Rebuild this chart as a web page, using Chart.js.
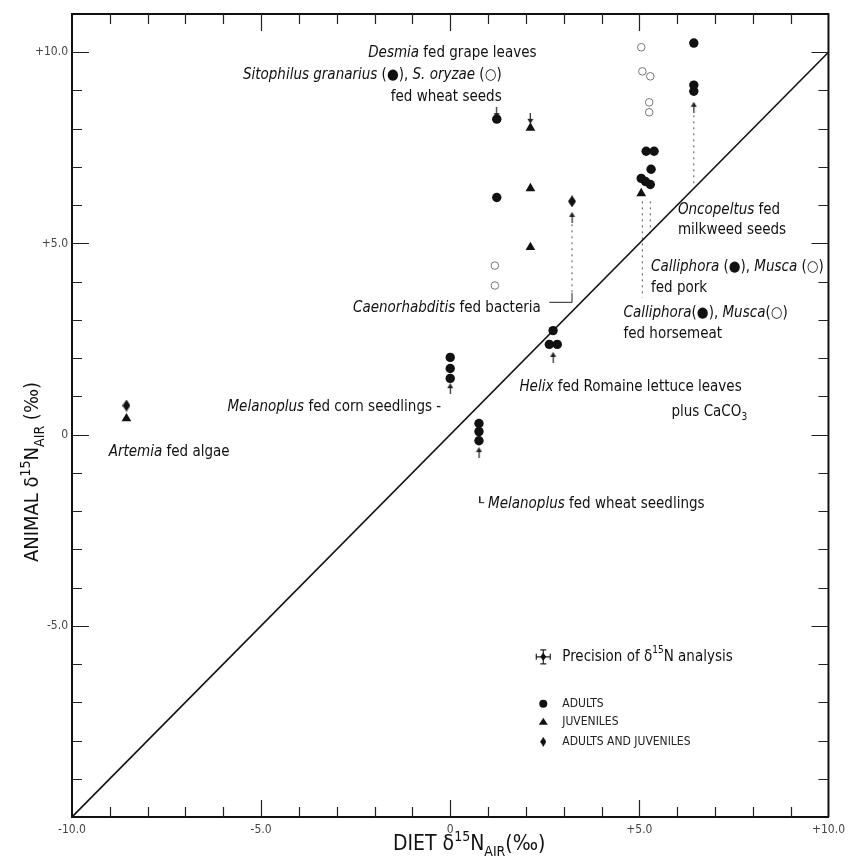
<!DOCTYPE html>
<html lang="en">
<head>
<meta charset="UTF-8">
<title>Animal vs diet δ15N</title>
<script src="https://cdn.jsdelivr.net/npm/chart.js"></script>
<style>
  html, body { margin: 0; padding: 0; background: #fff; }
</style>
</head>
<body>
<canvas id="chart" width="851" height="865"></canvas>
<script>
// values, diet d15N (x) vs animal d15N (y), per mil
const adultsX = [0, 0, 0, 0.76, 0.76, 0.76, 2.72, 2.62, 2.83, 1.23, 1.23, 6.44, 6.44, 6.44, 5.18, 5.39, 5.31, 5.05, 5.16, 5.29];
const adultsY = [2.02, 1.73, 1.47, 0.29, 0.08, -0.16, 2.72, 2.36, 2.36, 8.25, 6.2, 10.24, 9.14, 8.98, 7.41, 7.41, 6.94, 6.7, 6.62, 6.54];
const juvenilesX = [-8.56, 2.12, 2.12, 2.12, 5.05];
const juvenilesY = [0.42, 8.02, 6.44, 4.9, 6.31];
const bothX = [-8.56, 3.22];
const bothY = [0.76, 6.1];
const openX = [1.18, 1.18, 5.05, 5.08, 5.29, 5.26, 5.26];
const openY = [4.42, 3.9, 10.13, 9.5, 9.37, 8.69, 8.43];
const arrowX = [0, 0.76, 2.72, 3.22, 6.44, 2.12, 1.23];
const arrowY = [1.2, -0.47, 2.02, 5.68, 8.56, 8.27, 8.42];
const arrowTurn = [0, 0, 0, 0, 0, 180, 180];

const lineX = [-10, 10];
const lineY = [-10, 10];

// dotted leaders from labels to the diet values
const leaders = [
  { x: [3.22, 3.22], y: [5.5, 3.7] },
  { x: [6.44, 6.44], y: [8.35, 6.55] },
  { x: [5.08, 5.08], y: [6.1, 3.58] },
  { x: [5.29, 5.29], y: [6.1, 5.25] }
];
const brackets = [
  { x: [2.62, 3.22, 3.22], y: [3.46, 3.46, 3.7] },
  { x: [0.78, 0.78, 0.9], y: [-1.62, -1.78, -1.78] }
];

const xTickText = { '-10': '-10.0', '-5': '-5.0', '0': '0', '5': '+5.0', '10': '+10.0' };
const yTickText = { '-5': '-5.0', '0': '0', '5': '+5.0', '10': '+10.0' };

const notes = [
  { x: 2.28, y: 9.97, align: 'right', parts: [['Desmia', 'i'], [' fed grape leaves', '']] },
  { x: 1.36, y: 9.40, align: 'right', parts: [['Sitophilus granarius', 'i'], [' (●), ', ''], ['S. oryzae', 'i'], [' (○)', '']] },
  { x: 1.36, y: 8.82, align: 'right', parts: [['fed wheat seeds', '']] },
  { x: -2.57, y: 3.32, parts: [['Caenorhabditis', 'i'], [' fed bacteria', '']] },
  { x: 6.02, y: 5.86, parts: [['Oncopeltus', 'i'], [' fed', '']] },
  { x: 6.02, y: 5.34, parts: [['milkweed seeds', '']] },
  { x: 5.31, y: 4.37, parts: [['Calliphora', 'i'], [' (●), ', ''], ['Musca', 'i'], [' (○)', '']] },
  { x: 5.31, y: 3.82, parts: [['fed pork', '']] },
  { x: 4.58, y: 3.19, parts: [['Calliphora', 'i'], ['(●), ', ''], ['Musca', 'i'], ['(○)', '']] },
  { x: 4.58, y: 2.64, parts: [['fed horsemeat', '']] },
  { x: 1.83, y: 1.23, parts: [['Helix', 'i'], [' fed Romaine lettuce leaves', '']] },
  { x: 7.85, y: 0.58, align: 'right', parts: [['plus CaCO', ''], ['3', 'sub']] },
  { x: -5.89, y: 0.73, parts: [['Melanoplus', 'i'], [' fed corn seedlings -', '']] },
  { x: -9.03, y: -0.47, parts: [['Artemia', 'i'], [' fed algae', '']] },
  { x: 1.0, y: -1.81, parts: [['Melanoplus', 'i'], [' fed wheat seedlings', '']] }
];

const FONT = '"DejaVu Sans Condensed", "Liberation Sans", sans-serif';

function pts(xs, ys) {
  return xs.map((x, i) => ({ x: x, y: ys[i] }));
}

function makeDiamond() {
  const c = document.createElement('canvas');
  c.width = 8; c.height = 12;
  const g = c.getContext('2d');
  g.fillStyle = '#111';
  g.beginPath();
  g.moveTo(4, 0); g.lineTo(8, 6); g.lineTo(4, 12); g.lineTo(0, 6);
  g.closePath(); g.fill();
  return c;
}

function makeArrow() {
  const c = document.createElement('canvas');
  c.width = 7; c.height = 11;
  const g = c.getContext('2d');
  g.fillStyle = '#222';
  g.beginPath();
  g.moveTo(3.5, 0); g.lineTo(6.5, 5); g.lineTo(0.5, 5);
  g.closePath(); g.fill();
  g.fillRect(3, 4, 1.2, 7);
  return c;
}

const diamond = makeDiamond();
const arrow = makeArrow();

function fontFor(style, size) {
  if (style === 'i') return 'italic ' + size + 'px ' + FONT;
  if (style === 'sup' || style === 'sub') return Math.round(size * 0.68) + 'px ' + FONT;
  return size + 'px ' + FONT;
}

function drawRich(ctx, parts, x, y, align, size) {
  let w = 0;
  parts.forEach(p => { ctx.font = fontFor(p[1], size); w += ctx.measureText(p[0]).width; });
  let cx = align === 'right' ? x - w : (align === 'center' ? x - w / 2 : x);
  ctx.textAlign = 'left';
  parts.forEach(p => {
    ctx.font = fontFor(p[1], size);
    let dy = 0;
    if (p[1] === 'sup') dy = -size * 0.42;
    if (p[1] === 'sub') dy = size * 0.3;
    ctx.fillText(p[0], cx, y + dy);
    cx += ctx.measureText(p[0]).width;
  });
}

const frame = {
  id: 'frame',
  afterDraw(chart) {
    const ctx = chart.ctx;
    const a = chart.chartArea;
    const xs = chart.scales.x, ys = chart.scales.y;
    ctx.save();
    ctx.strokeStyle = '#111';

    // top and right border
    ctx.lineWidth = 2;
    ctx.beginPath();
    ctx.moveTo(a.left, a.top); ctx.lineTo(a.right, a.top); ctx.lineTo(a.right, a.bottom);
    ctx.stroke();

    // inward ticks on all four sides
    ctx.lineWidth = 1.2;
    ctx.strokeStyle = '#222';
    ctx.beginPath();
    xs.ticks.forEach(t => {
      if (t.value <= xs.min || t.value >= xs.max) return;
      const px = Math.round(xs.getPixelForValue(t.value)) + 0.5;
      const len = t.value % 5 === 0 ? 17 : 10;
      ctx.moveTo(px, a.bottom); ctx.lineTo(px, a.bottom - len);
      ctx.moveTo(px, a.top); ctx.lineTo(px, a.top + len);
    });
    ys.ticks.forEach(t => {
      if (t.value <= ys.min || t.value >= ys.max) return;
      const py = Math.round(ys.getPixelForValue(t.value)) + 0.5;
      const len = t.value % 5 === 0 ? 17 : 10;
      ctx.moveTo(a.left, py); ctx.lineTo(a.left + len, py);
      ctx.moveTo(a.right, py); ctx.lineTo(a.right - len, py);
    });
    ctx.stroke();

    // annotations
    ctx.fillStyle = '#111';
    ctx.textBaseline = 'middle';
    notes.forEach(n => {
      drawRich(ctx, n.parts, xs.getPixelForValue(n.x), ys.getPixelForValue(n.y), n.align || 'left', 15);
    });

    // key
    const kx = xs.getPixelForValue(2.46), ky = ys.getPixelForValue(-5.81);
    ctx.lineWidth = 1.2;
    ctx.beginPath();
    ctx.moveTo(kx - 7, ky); ctx.lineTo(kx + 7, ky);
    ctx.moveTo(kx - 7, ky - 3); ctx.lineTo(kx - 7, ky + 3);
    ctx.moveTo(kx + 7, ky - 3); ctx.lineTo(kx + 7, ky + 3);
    ctx.moveTo(kx, ky - 7); ctx.lineTo(kx, ky + 7);
    ctx.moveTo(kx - 3, ky - 7); ctx.lineTo(kx + 3, ky - 7);
    ctx.moveTo(kx - 3, ky + 7); ctx.lineTo(kx + 3, ky + 7);
    ctx.stroke();
    ctx.beginPath();
    ctx.moveTo(kx, ky - 4); ctx.lineTo(kx + 3, ky); ctx.lineTo(kx, ky + 4); ctx.lineTo(kx - 3, ky);
    ctx.closePath(); ctx.fill();
    drawRich(ctx, [['Precision of δ', ''], ['15', 'sup'], ['N analysis', '']], kx + 19, ky, 'left', 15);

    ctx.beginPath(); ctx.arc(kx, ky + 47, 4, 0, Math.PI * 2); ctx.fill();
    ctx.beginPath();
    ctx.moveTo(kx, ky + 61); ctx.lineTo(kx + 4.5, ky + 68); ctx.lineTo(kx - 4.5, ky + 68);
    ctx.closePath(); ctx.fill();
    ctx.drawImage(diamond, kx - 3, ky + 80, 6, 10);
    ctx.font = '12px ' + FONT;
    ctx.fillStyle = '#222';
    ctx.fillText('ADULTS', kx + 19, ky + 47);
    ctx.fillText('JUVENILES', kx + 19, ky + 65);
    ctx.fillText('ADULTS AND JUVENILES', kx + 19, ky + 85);

    // axis titles
    ctx.fillStyle = '#111';
    ctx.textBaseline = 'alphabetic';
    drawRich(ctx, [['DIET δ', ''], ['15', 'sup'], ['N', ''], ['AIR', 'sub'], ['(‰)', '']], 393, 850, 'left', 21);
    ctx.translate(38, 472);
    ctx.rotate(-Math.PI / 2);
    drawRich(ctx, [['ANIMAL δ', ''], ['15', 'sup'], ['N', ''], ['AIR', 'sub'], [' (‰)', '']], 0, 0, 'center', 20);
    ctx.restore();
  }
};

const dotted = leaders.map(l => ({
  type: 'line', data: pts(l.x, l.y), borderColor: '#555', borderWidth: 1,
  borderDash: [2, 4], pointRadius: 0, fill: false
}));
const solid = brackets.map(b => ({
  type: 'line', data: pts(b.x, b.y), borderColor: '#222', borderWidth: 1,
  pointRadius: 0, fill: false
}));

new Chart(document.getElementById('chart'), {
  type: 'scatter',
  data: {
    datasets: [
      { type: 'line', data: pts(lineX, lineY), borderColor: '#111', borderWidth: 1.6, pointRadius: 0, fill: false }
    ].concat(dotted, solid, [
      { data: pts(adultsX, adultsY), pointStyle: 'circle', pointRadius: 4.7, backgroundColor: '#111', borderWidth: 0 },
      { data: pts(juvenilesX, juvenilesY), pointStyle: 'triangle', pointRadius: 5.6, backgroundColor: '#111', borderColor: '#111', borderWidth: 0 },
      { data: pts(bothX, bothY), pointStyle: diamond, pointRadius: 5 },
      { data: pts(arrowX, arrowY), pointStyle: arrow, pointRotation: arrowTurn, pointRadius: 4 },
      { data: pts(openX, openY), pointStyle: 'circle', pointRadius: 3.8, backgroundColor: 'rgba(255,255,255,0)', borderColor: '#777', borderWidth: 1 }
    ])
  },
  options: {
    responsive: false,
    animation: false,
    layout: { padding: { top: 14, right: 18, left: 0, bottom: 0 } },
    plugins: { legend: { display: false }, tooltip: { enabled: false } },
    scales: {
      x: {
        type: 'linear', min: -10, max: 10,
        grid: { display: false, drawTicks: false },
        border: { display: true, color: '#111', width: 2 },
        ticks: {
          stepSize: 1, autoSkip: false, maxRotation: 0, padding: 6,
          color: '#444', font: { family: FONT, size: 12 },
          callback: v => xTickText[String(v)] || ''
        },
        afterFit: s => { s.height = 48; }
      },
      y: {
        type: 'linear', min: -10, max: 11,
        grid: { display: false, drawTicks: false },
        border: { display: true, color: '#111', width: 2 },
        ticks: {
          stepSize: 1, autoSkip: false, padding: 4,
          color: '#444', font: { family: FONT, size: 12 },
          callback: v => yTickText[String(v)] || ''
        },
        afterFit: s => { s.width = 72; }
      }
    }
  },
  plugins: [frame]
});
</script>
</body>
</html>
